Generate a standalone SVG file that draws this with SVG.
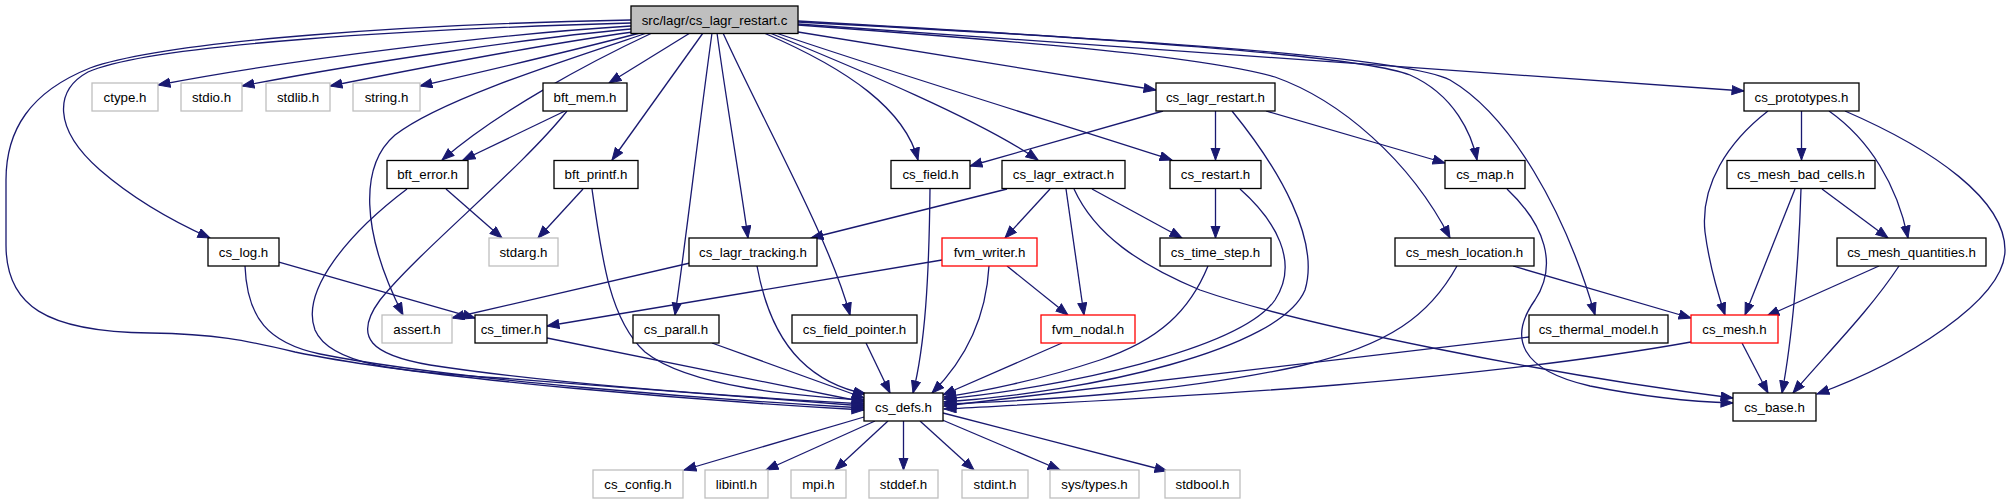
<svg xmlns="http://www.w3.org/2000/svg" width="2012" height="504" viewBox="0 0 2012 504">
<style>
.n rect{fill:#fff;stroke:#000;stroke-width:1.3}
.g rect{stroke:#bfbfbf}
.r rect{stroke:#ff0000}
.root rect{fill:#bfbfbf}
text{font-family:"Liberation Sans",Arial,Helvetica,sans-serif;font-size:13.3px;text-anchor:middle;fill:#000}
.e path{fill:none;stroke:#191970;stroke-width:1.3;marker-end:url(#a)}
</style>
<defs>
<marker id="a" markerWidth="14" markerHeight="11" refX="12.5" refY="5" orient="auto" markerUnits="userSpaceOnUse">
<path d="M0.5,0.5 L12.5,5 L0.5,9.5 z" fill="#191970" stroke="#191970" stroke-width="1"/>
</marker>
</defs>
<rect width="2012" height="504" fill="#fff"/>
<g class="e" id="edges">
<!-- root -> left row -->
<path d="M631,26 C500,34 300,58 158,85"/>
<path d="M631,29 C530,38 360,63 242,86"/>
<path d="M633,32 C560,42 430,66 330,86"/>
<path d="M640,33 C590,46 490,70 420,86"/>
<path d="M631,20 C420,24 170,40 90,68 C30,92 6,130 6,180 L6,245 C6,305 45,332 150,333 C215,334 245,340 295,352 C430,380 720,402 864,410"/>
<path d="M631,23 C420,29 150,44 88,72 C55,90 52,128 100,170 C130,196 170,220 210,238"/>
<path d="M652,33 C590,62 500,110 442,160"/>
<path d="M647,33 C560,62 440,100 395,135 C360,165 360,230 403,315"/>
<path d="M690,33 L609,83"/>
<path d="M703,33 L612,160"/>
<path d="M712,33 C696,150 686,240 675,315"/>
<path d="M717,33 C726,100 740,180 748,238"/>
<path d="M723,33 C765,125 830,240 850,315"/>
<path d="M764,33 C850,70 905,110 918,160"/>
<path d="M770,33 C860,70 980,120 1038,160"/>
<path d="M776,33 C900,75 1080,130 1172,160"/>
<!-- root -> right -->
<path d="M798,32 L1156,90"/>
<path d="M798,24 L1744,91"/>
<path d="M798,21 C1100,38 1360,55 1410,75 C1455,95 1472,135 1477,160"/>
<path d="M798,22 C1100,38 1400,55 1450,80 C1510,115 1565,210 1595,315"/>
<path d="M798,25 C1000,40 1200,55 1275,77 C1340,100 1410,160 1450,238"/>
<!-- left side -->
<path d="M565,111 L463,160"/>
<path d="M446,189 L502,238"/>
<path d="M583,189 L538,238"/>
<path d="M279,262 L475,318"/>
<path d="M690,263 L452,318"/>
<path d="M942,260 L547,326"/>
<path d="M245,266 C247,318 268,343 320,354 C450,380 720,400 864,408"/>
<path d="M407,189 C350,232 300,290 315,330 C330,365 400,372 500,378 C650,390 780,400 864,406"/>
<path d="M567,111 C520,170 420,250 380,300 C352,338 372,355 430,365 C560,385 760,398 864,404"/>
<path d="M592,189 C602,260 610,320 645,352 C690,388 800,396 864,400"/>
<path d="M547,338 L864,402"/>
<path d="M712,343 L864,398"/>
<path d="M757,266 C765,310 780,340 800,360 C820,380 845,390 866,394"/>
<path d="M866,343 L890,393"/>
<path d="M930,189 C929,280 925,345 913,393"/>
<path d="M989,266 C986,320 965,360 932,393"/>
<path d="M1062,343 L943,395"/>
<!-- middle -->
<path d="M1007,266 L1068,315"/>
<path d="M1007,189 L811,238"/>
<path d="M1050,189 L1005,238"/>
<path d="M1066,189 L1084,315"/>
<path d="M1092,189 L1182,238"/>
<path d="M1074,189 C1095,235 1140,265 1200,290 C1300,325 1550,375 1733,398"/>
<path d="M1215.5,189 L1215.5,238"/>
<path d="M1163,111 L970,166"/>
<path d="M1215.5,111 L1215.5,160"/>
<path d="M1266,111 L1445,163"/>
<path d="M1208,266 C1190,310 1160,340 1100,360 C1040,380 980,392 944,397"/>
<path d="M1240,189 C1275,220 1300,262 1275,300 C1240,350 1060,388 944,399"/>
<path d="M1232,111 C1280,170 1320,240 1305,290 C1280,350 1090,392 944,402"/>
<path d="M1457,266 C1430,315 1390,345 1300,366 C1180,392 1050,400 944,404"/>
<path d="M1529,337 L944,406"/>
<path d="M1691,342 C1450,385 1150,398 944,409"/>
<path d="M1507,189 C1545,225 1558,265 1535,300 C1508,338 1520,370 1590,386 C1650,398 1700,402 1733,403"/>
<path d="M1513,266 L1691,318"/>
<!-- right side -->
<path d="M1801.5,111 L1801.5,160"/>
<path d="M1768,111 C1728,142 1700,185 1705,232 C1710,270 1720,300 1725,315"/>
<path d="M1829,111 C1870,140 1897,185 1908,238"/>
<path d="M1845,111 C1935,150 2005,200 2005,250 C2005,300 1905,362 1817,394"/>
<path d="M1795,189 L1745,315"/>
<path d="M1822,189 L1888,238"/>
<path d="M1801,189 C1799,260 1792,340 1782,393"/>
<path d="M1879,266 L1767,316"/>
<path d="M1899,266 C1870,310 1830,350 1793,393"/>
<path d="M1742,343 L1768,393"/>
<!-- cs_defs -> system -->
<path d="M864,417 L684,470"/>
<path d="M875,421 L766,470"/>
<path d="M888,421 L835,470"/>
<path d="M903.5,421 L903.5,470"/>
<path d="M920,421 L974,470"/>
<path d="M940,419 L1060,470"/>
<path d="M943,413 L1167,471"/>
</g>
<g id="root" class="n root"><rect x="631" y="6" width="167" height="27.5"/><text x="714.5" y="24.5">src/lagr/cs_lagr_restart.c</text></g>
<g id="ctype" class="n g"><rect x="92" y="83" width="66" height="28"/><text x="125" y="101.7">ctype.h</text></g>
<g id="stdio" class="n g"><rect x="181" y="83" width="61" height="28"/><text x="211.5" y="101.7">stdio.h</text></g>
<g id="stdlib" class="n g"><rect x="266" y="83" width="64" height="28"/><text x="298" y="101.7">stdlib.h</text></g>
<g id="string" class="n g"><rect x="353" y="83" width="67" height="28"/><text x="386.5" y="101.7">string.h</text></g>
<g id="bft_mem" class="n"><rect x="543" y="83" width="84" height="28"/><text x="585" y="101.7">bft_mem.h</text></g>
<g id="cs_lagr_restart_h" class="n"><rect x="1156" y="83" width="119" height="28"/><text x="1215.5" y="101.7">cs_lagr_restart.h</text></g>
<g id="cs_prototypes" class="n"><rect x="1744" y="83" width="115" height="28"/><text x="1801.5" y="101.7">cs_prototypes.h</text></g>
<g id="bft_error" class="n"><rect x="387" y="160.5" width="81" height="28"/><text x="427.5" y="179.2">bft_error.h</text></g>
<g id="bft_printf" class="n"><rect x="554" y="160.5" width="84" height="28"/><text x="596" y="179.2">bft_printf.h</text></g>
<g id="cs_field" class="n"><rect x="891" y="160.5" width="79" height="28"/><text x="930.5" y="179.2">cs_field.h</text></g>
<g id="cs_lagr_extract" class="n"><rect x="1002" y="160.5" width="123" height="28"/><text x="1063.5" y="179.2">cs_lagr_extract.h</text></g>
<g id="cs_restart" class="n"><rect x="1170" y="160.5" width="91" height="28"/><text x="1215.5" y="179.2">cs_restart.h</text></g>
<g id="cs_map" class="n"><rect x="1445" y="160.5" width="80" height="28"/><text x="1485" y="179.2">cs_map.h</text></g>
<g id="cs_mesh_bad_cells" class="n"><rect x="1727" y="160.5" width="148" height="28"/><text x="1801" y="179.2">cs_mesh_bad_cells.h</text></g>
<g id="cs_log" class="n"><rect x="208" y="238" width="71" height="28"/><text x="243.5" y="256.7">cs_log.h</text></g>
<g id="stdarg" class="n g"><rect x="489" y="238" width="69" height="28"/><text x="523.5" y="256.7">stdarg.h</text></g>
<g id="cs_lagr_tracking" class="n"><rect x="689" y="238" width="128" height="28"/><text x="753" y="256.7">cs_lagr_tracking.h</text></g>
<g id="fvm_writer" class="n r"><rect x="942" y="238" width="95" height="28"/><text x="989.5" y="256.7">fvm_writer.h</text></g>
<g id="cs_time_step" class="n"><rect x="1160" y="238" width="111" height="28"/><text x="1215.5" y="256.7">cs_time_step.h</text></g>
<g id="cs_mesh_location" class="n"><rect x="1395" y="238" width="139" height="28"/><text x="1464.5" y="256.7">cs_mesh_location.h</text></g>
<g id="cs_mesh_quantities" class="n"><rect x="1837" y="238" width="149" height="28"/><text x="1911.5" y="256.7">cs_mesh_quantities.h</text></g>
<g id="assert" class="n g"><rect x="382" y="315" width="70" height="28"/><text x="417" y="333.7">assert.h</text></g>
<g id="cs_timer" class="n"><rect x="475" y="315" width="72" height="28"/><text x="511" y="333.7">cs_timer.h</text></g>
<g id="cs_parall" class="n"><rect x="633" y="315" width="86" height="28"/><text x="676" y="333.7">cs_parall.h</text></g>
<g id="cs_field_pointer" class="n"><rect x="792" y="315" width="125" height="28"/><text x="854.5" y="333.7">cs_field_pointer.h</text></g>
<g id="fvm_nodal" class="n r"><rect x="1041" y="315" width="94" height="28"/><text x="1088" y="333.7">fvm_nodal.h</text></g>
<g id="cs_thermal_model" class="n"><rect x="1529" y="315" width="139" height="28"/><text x="1598.5" y="333.7">cs_thermal_model.h</text></g>
<g id="cs_mesh" class="n r"><rect x="1691" y="315" width="87" height="28"/><text x="1734.5" y="333.7">cs_mesh.h</text></g>
<g id="cs_defs" class="n"><rect x="864" y="393" width="79" height="28"/><text x="903.5" y="411.7">cs_defs.h</text></g>
<g id="cs_base" class="n"><rect x="1733" y="393" width="83" height="28"/><text x="1774.5" y="411.7">cs_base.h</text></g>
<g id="cs_config" class="n g"><rect x="593" y="470" width="90" height="28"/><text x="638" y="488.7">cs_config.h</text></g>
<g id="libintl" class="n g"><rect x="705" y="470" width="63" height="28"/><text x="736.5" y="488.7">libintl.h</text></g>
<g id="mpi" class="n g"><rect x="791" y="470" width="55" height="28"/><text x="818.5" y="488.7">mpi.h</text></g>
<g id="stddef" class="n g"><rect x="869" y="470" width="69" height="28"/><text x="903.5" y="488.7">stddef.h</text></g>
<g id="stdint" class="n g"><rect x="962" y="470" width="66" height="28"/><text x="995" y="488.7">stdint.h</text></g>
<g id="sys_types" class="n g"><rect x="1050" y="470" width="89" height="28"/><text x="1094.5" y="488.7">sys/types.h</text></g>
<g id="stdbool" class="n g"><rect x="1165" y="470" width="75" height="28"/><text x="1202.5" y="488.7">stdbool.h</text></g>
</svg>
